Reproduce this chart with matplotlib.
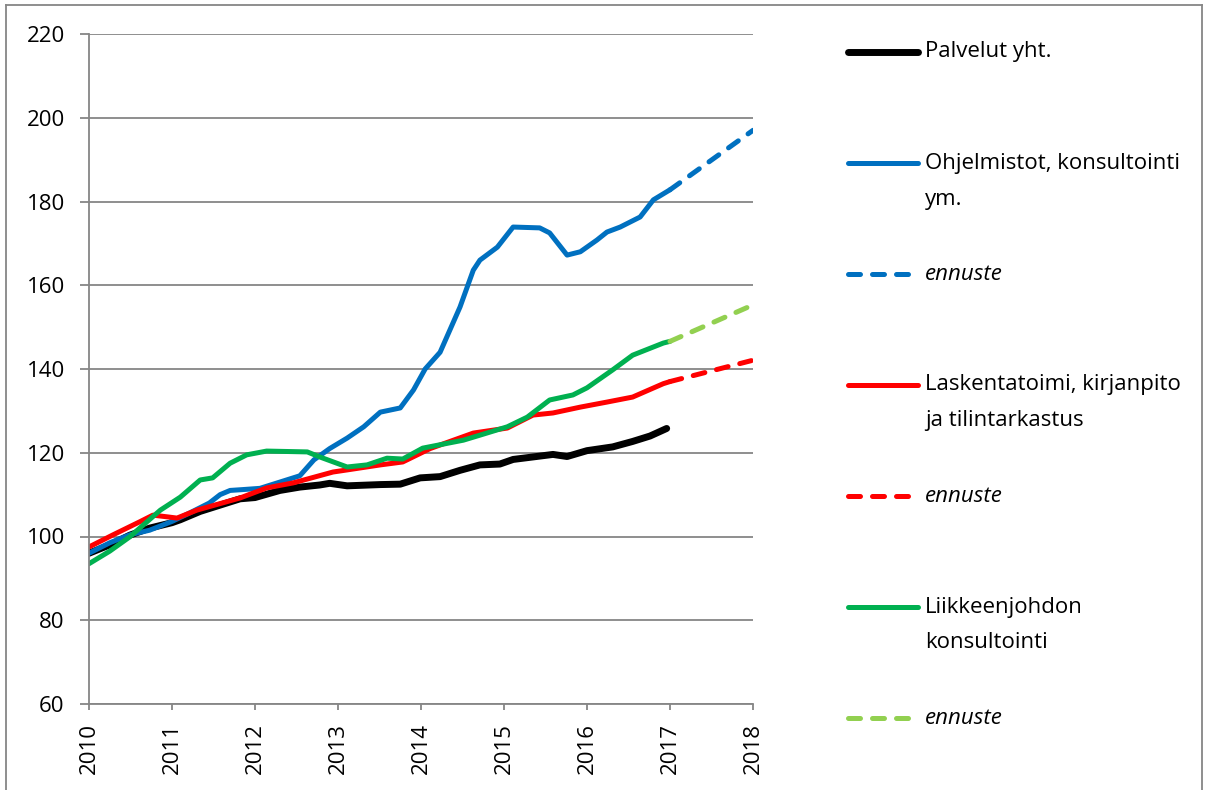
import matplotlib
matplotlib.use('Agg')
import matplotlib.pyplot as plt
from matplotlib.lines import Line2D

plt.rcParams['font.family'] = ['Open Sans', 'DejaVu Sans']

# Palvelut yht.
x_pal = [2010.00, 2010.25, 2010.49, 2010.73, 2011.00, 2011.10, 2011.34, 2011.58, 2011.82, 2012.00,
         2012.30, 2012.54, 2012.78, 2012.90, 2013.11, 2013.51, 2013.75, 2013.99, 2014.23, 2014.47,
         2014.71, 2014.95, 2015.11, 2015.59, 2015.76, 2016.00, 2016.31, 2016.55, 2016.76, 2016.96]
y_pal = [96.0, 98.0, 100.3, 102.0, 103.3, 104.0, 106.0, 107.5, 109.0, 109.3,
         111.0, 111.8, 112.3, 112.7, 112.1, 112.4, 112.5, 114.0, 114.3, 115.8,
         117.1, 117.3, 118.4, 119.6, 119.1, 120.5, 121.4, 122.7, 124.0, 125.8]

# Ohjelmistot, konsultointi ym.
x_ohj = [2010.00, 2010.25, 2010.49, 2010.73, 2011.00, 2011.20, 2011.45, 2011.58, 2011.70, 2011.85,
         2012.06, 2012.30, 2012.54, 2012.71, 2012.90, 2013.11, 2013.31, 2013.51, 2013.75, 2013.91,
         2014.05, 2014.23, 2014.47, 2014.63, 2014.71, 2014.92, 2015.11, 2015.43, 2015.55, 2015.76,
         2015.92, 2016.12, 2016.24, 2016.40, 2016.64, 2016.80, 2017.00]
y_ohj = [96.0, 98.5, 100.4, 101.5, 103.6, 105.5, 108.0, 110.0, 111.0, 111.2,
         111.5, 113.0, 114.5, 118.3, 121.0, 123.5, 126.2, 129.7, 130.7, 135.0,
         140.0, 144.0, 154.8, 163.6, 166.0, 169.1, 173.9, 173.7, 172.5, 167.2,
         168.0, 170.8, 172.7, 173.9, 176.3, 180.4, 182.8]
x_ohj_f = [2017.0, 2018.0]
y_ohj_f = [182.8, 197.0]

# Laskentatoimi, kirjanpito ja tilintarkastus
x_las = [2010.00, 2010.29, 2010.61, 2010.77, 2010.94, 2011.06, 2011.30, 2011.82, 2012.14, 2012.46,
         2012.94, 2013.11, 2013.51, 2013.78, 2014.11, 2014.63, 2015.04, 2015.35, 2015.59, 2015.92,
         2016.24, 2016.55, 2016.92, 2017.00]
y_las = [97.5, 100.4, 103.5, 105.1, 104.7, 104.4, 106.3, 109.2, 111.6, 112.8,
         115.4, 115.9, 117.1, 117.8, 121.0, 124.7, 125.9, 129.0, 129.5, 130.9,
         132.1, 133.3, 136.5, 137.0]
x_las_f = [2017.0, 2018.0]
y_las_f = [137.0, 142.1]

# Liikkeenjohdon konsultointi
x_lii = [2010.00, 2010.25, 2010.49, 2010.86, 2011.10, 2011.34, 2011.49, 2011.70, 2011.90, 2012.14,
         2012.63, 2012.78, 2013.11, 2013.35, 2013.59, 2013.78, 2014.02, 2014.51, 2014.71, 2015.04,
         2015.28, 2015.55, 2015.83, 2016.00, 2016.31, 2016.55, 2016.92, 2017.00]
y_lii = [93.5, 96.5, 99.9, 106.3, 109.4, 113.5, 114.0, 117.5, 119.5, 120.4,
         120.2, 119.0, 116.6, 117.1, 118.7, 118.5, 121.1, 123.0, 124.2, 126.2,
         128.5, 132.6, 133.8, 135.5, 139.8, 143.3, 146.2, 146.6]
x_lii_f = [2017.0, 2018.0]
y_lii_f = [146.6, 155.3]

years = list(range(2010, 2019))
yticks = list(range(60, 221, 20))

W, H = 1205, 790
fig = plt.figure(figsize=(W / 100, H / 100), dpi=100)
ax = fig.add_axes([89 / W, 1 - 704 / H, (753 - 89) / W, (704 - 34) / H])

grey = '#868686'
dash = (2.4, 2.4)
fs = 16
styles = [
    dict(x=x_pal, y=y_pal, color='black', lw=5.0, ls='-', label='Palvelut yht.'),
    dict(x=x_ohj, y=y_ohj, color='#0070C0', lw=3.6, ls='-', label='Ohjelmistot, konsultointi\nym.'),
    dict(x=x_ohj_f, y=y_ohj_f, color='#0070C0', lw=3.6, ls='--', label='ennuste'),
    dict(x=x_las, y=y_las, color='#FF0000', lw=3.6, ls='-', label='Laskentatoimi, kirjanpito\nja tilintarkastus'),
    dict(x=x_las_f, y=y_las_f, color='#FF0000', lw=3.6, ls='--', label='ennuste'),
    dict(x=x_lii, y=y_lii, color='#00B050', lw=3.6, ls='-', label='Liikkeenjohdon\nkonsultointi'),
    dict(x=x_lii_f, y=y_lii_f, color='#92D050', lw=3.6, ls='--', label='ennuste'),
]

for s in styles:
    line, = ax.plot(s['x'], s['y'], color=s['color'], lw=s['lw'],
                    solid_capstyle='round', dash_capstyle='round', solid_joinstyle='round')
    if s['ls'] == '--':
        line.set_dashes(dash)

ax.set_xlim(2010, 2018)
ax.set_ylim(60, 220)
ax.set_xticks(years)
ax.set_xticklabels([str(y) for y in years], rotation=90, fontsize=fs)
ax.set_yticks(yticks)
ax.set_yticklabels([str(v) for v in yticks], fontsize=fs)
ax.yaxis.grid(True, color=grey, lw=1.3)
ax.set_axisbelow(True)
for side in ['top', 'right']:
    ax.spines[side].set_visible(False)
for side in ['left', 'bottom']:
    ax.spines[side].set_color(grey)
    ax.spines[side].set_linewidth(1.3)
ax.tick_params(axis='y', color=grey, width=1.3, length=6.5, pad=11)
ax.tick_params(axis='x', color=grey, width=1.3, length=4.5, pad=9)

# legend, drawn by hand so two-line labels align with their first line
entry_y = [52, 163, 274, 385, 496, 607, 718]
for s, yy in zip(styles, entry_y):
    fy = 1 - yy / H
    h = Line2D([848 / W, 918 / W], [fy, fy], transform=fig.transFigure, color=s['color'],
               lw=s['lw'], solid_capstyle='round', dash_capstyle='round')
    if s['ls'] == '--':
        h.set_dashes(dash)
    fig.add_artist(h)
    for i, txt in enumerate(s['label'].split('\n')):
        fig.text(925 / W, 1 - (yy + 36 * i) / H, txt, fontsize=fs, va='center', ha='left',
                 style='italic' if s['ls'] == '--' else 'normal')

# outer frame
for xs, ys in [([6, 6], [5, 790]), ([1202, 1202], [5, 790]), ([6, 1202], [5, 5])]:
    fig.add_artist(Line2D([v / W for v in xs], [1 - v / H for v in ys],
                          transform=fig.transFigure, color=grey, lw=1.3))

fig.savefig('out.png', dpi=100)
